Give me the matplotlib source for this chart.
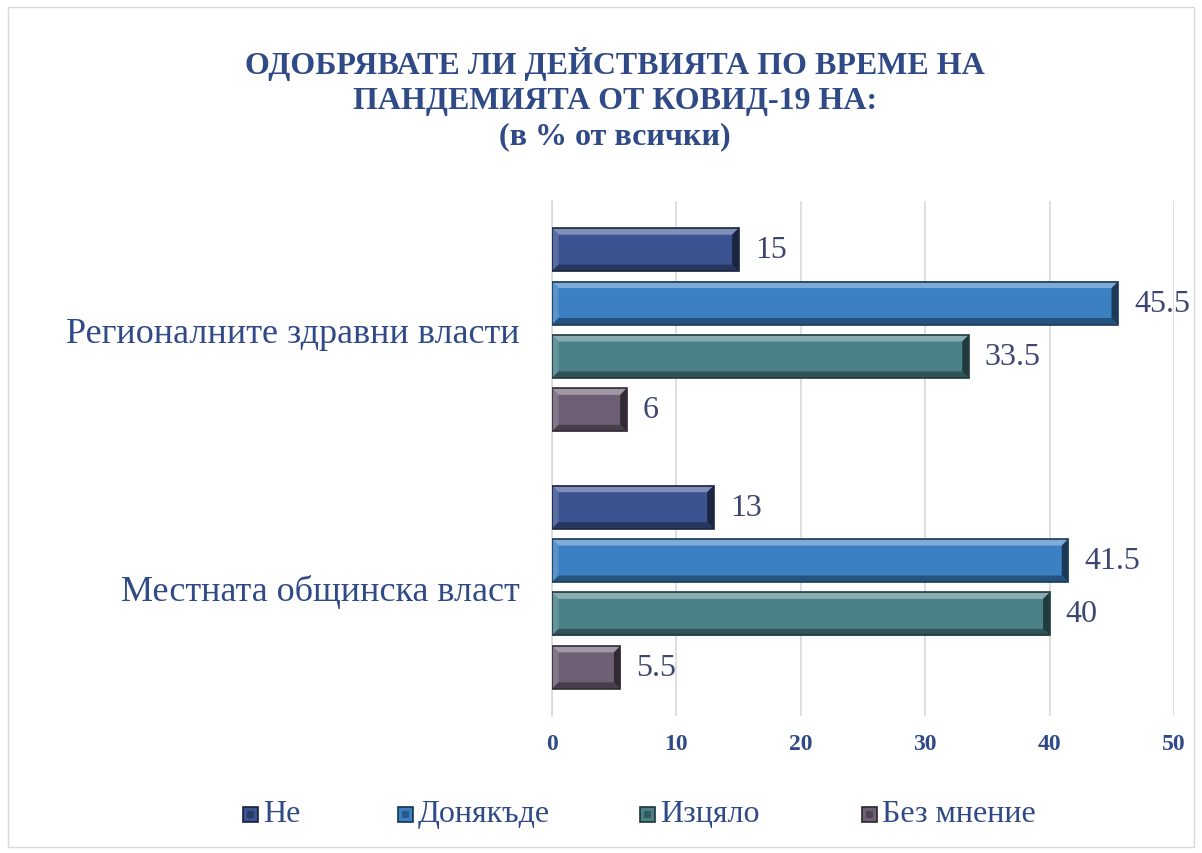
import matplotlib
matplotlib.use("Agg")
import matplotlib.pyplot as plt
from matplotlib.patches import Rectangle, Polygon
import matplotlib.colors as mcolors
import numpy as np

categories = ["Регионалните здравни власти", "Местната общинска власт"]
series_names = ["Не", "Донякъде", "Изцяло", "Без мнение"]
values = {
    "Не": [15, 13],
    "Донякъде": [45.5, 41.5],
    "Изцяло": [33.5, 40],
    "Без мнение": [6, 5.5],
}
value_labels = {
    "Не": ["15", "13"],
    "Донякъде": ["45.5", "41.5"],
    "Изцяло": ["33.5", "40"],
    "Без мнение": ["6", "5.5"],
}
xticks = [0, 10, 20, 30, 40, 50]

colors = ["#3C5391", "#3A80C2", "#4A8088", "#6E5F74"]

def mix(c, other, t):
    a = np.array(mcolors.to_rgb(c))
    b = np.array(mcolors.to_rgb(other))
    return tuple(a * (1 - t) + b * t)

plt.rcParams['font.family'] = ['Liberation Serif', 'DejaVu Serif']
blue = "#2F4A86"

fig = plt.figure(figsize=(12.02, 8.54), dpi=100)
ax = fig.add_axes([552/1202, 1-717/854, (1174-552)/1202, (717-202)/854])

w = 53.5/258
h = 43/258
bx = 6.5/12.44
by = 6.5/257.5
y0 = np.arange(len(categories))

def bevel_bar(ax, y, v, c):
    top = y - h/2   # visually top (inverted axis)
    bot = y + h/2
    light = mix(c, "white", 0.35)
    mid_light = mix(c, "white", 0.15)
    dark = mix(c, "black", 0.35)
    darker = mix(c, "black", 0.55)
    outline = mix(c, "black", 0.55)
    ax.add_patch(Rectangle((0, top), v, h, facecolor=c, edgecolor="none", zorder=3))
    x0, x1 = 0, v
    ix0, ix1 = bx, max(v - bx, bx)
    it, ib = top + by, bot - by
    ax.add_patch(Polygon([(x0, top), (x1, top), (ix1, it), (ix0, it)], closed=True,
                         facecolor=light, edgecolor="none", zorder=4))
    ax.add_patch(Polygon([(x0, top), (ix0, it), (ix0, ib), (x0, bot)], closed=True,
                         facecolor=mid_light, edgecolor="none", zorder=4))
    ax.add_patch(Polygon([(x0, bot), (ix0, ib), (ix1, ib), (x1, bot)], closed=True,
                         facecolor=dark, edgecolor="none", zorder=4))
    ax.add_patch(Polygon([(x1, top), (x1, bot), (ix1, ib), (ix1, it)], closed=True,
                         facecolor=darker, edgecolor="none", zorder=4))
    ax.add_patch(Rectangle((0, top), v, h, facecolor="none", edgecolor=outline,
                           linewidth=1.2, zorder=5))

for i, s in enumerate(series_names):
    ys = y0 + (i - 1.5) * w
    for y, v, lab in zip(ys, values[s], value_labels[s]):
        bevel_bar(ax, y, v, colors[i])
        ax.text(v + 1.3, y, lab, va="center", ha="left", fontsize=23, color="#3C4670", zorder=6)

ax.set_xlim(0, 50)
ax.set_ylim(1.5, -0.5)
ax.set_xticks(xticks)
ax.set_xticklabels([str(t) for t in xticks], fontsize=17, fontweight="bold", color=blue)
ax.set_yticks(y0)
ax.set_yticklabels(categories, fontsize=26, color=blue)
ax.tick_params(axis="both", length=0)
ax.tick_params(axis="x", pad=12)
ax.tick_params(axis="y", pad=23)
ax.grid(axis="x", color="#D9D9D9", linewidth=1.2, zorder=0)
for sp in ["top", "right", "bottom"]:
    ax.spines[sp].set_visible(False)
ax.spines["left"].set_color("#D9D9D9")
ax.spines["left"].set_linewidth(1.2)

title_lines = ["ОДОБРЯВАТЕ ЛИ ДЕЙСТВИЯТА ПО ВРЕМЕ НА", "ПАНДЕМИЯТА ОТ КОВИД-19 НА:", "(в % от всички)"]
for line, yp in zip(title_lines, [64, 101, 137]):
    fig.text(615/1202, 1-yp/854, line, ha="center", va="center",
             fontsize=23, fontweight="bold", color=blue)

legend_marker_x = [243, 398, 640, 862]
ly = 815
msz = 15
for i, s in enumerate(series_names):
    mx = legend_marker_x[i]
    c = colors[i]
    fig.add_artist(Rectangle((mx/1202, 1-(ly+msz/2)/854), msz/1202, msz/854, transform=fig.transFigure,
                             facecolor=c, edgecolor=mix(c, "black", 0.6), linewidth=1.2))
    fig.add_artist(Rectangle(((mx+4)/1202, 1-(ly+msz/2-4)/854), (msz-8)/1202, (msz-8)/854,
                             transform=fig.transFigure, facecolor=mix(c, "black", 0.3),
                             edgecolor="none"))
    fig.text((mx + msz + 5)/1202, 1-ly/854, s, ha="left", va="center", fontsize=23, color=blue)

fig.add_artist(Rectangle((8/1202, 1-848/854), (1194-8)/1202, (848-8)/854, transform=fig.transFigure,
                         fill=False, edgecolor="#D9D9D9", linewidth=1.0))

fig.savefig("out.png", dpi=100)
